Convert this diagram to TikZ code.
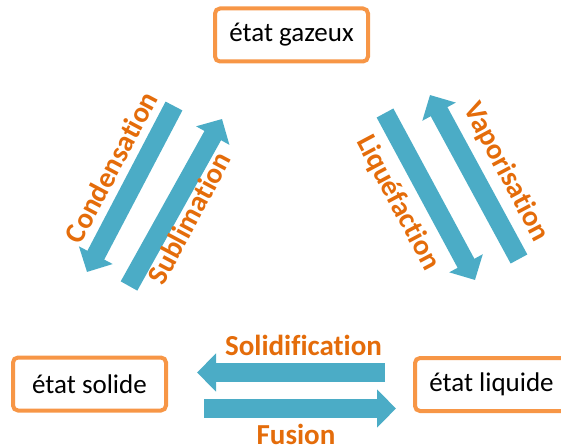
\documentclass[tikz,border=0pt]{standalone}
\usepackage{fontspec}
\setmainfont{Carlito}[Ligatures={NoCommon,NoContextual}]
\usetikzlibrary{arrows.meta}

\definecolor{boxorange}{HTML}{F79646}
\definecolor{textorange}{HTML}{E46C0A}
\definecolor{flowblue}{HTML}{4BACC6}

\tikzset{
  etat/.style={draw=boxorange, line width=4pt, rounded corners=5pt, fill=white,
    minimum width=153pt, minimum height=53pt, inner sep=0pt,
    font=\fontsize{27}{32}\selectfont},
  flow/.style={draw=flowblue, line width=19pt,
    -{Triangle[width=37pt,length=19pt]}},
  change/.style={text=textorange, inner sep=0pt,
    font=\fontsize{29}{34}\selectfont\bfseries},
}

\begin{document}
\begin{tikzpicture}[x=1pt,y=-1pt]
  \useasboundingbox (0,0) rectangle (561,446);
  \clip (0,0) rectangle (561,446);
  % three states
  \node[etat] (gaz) at (291.5,35) {état gazeux};
  \node[etat] (solide) at (89.5,384) {état solide};
  \node[etat] (liquide) at (491.5,384.5) {état liquide};
  % arrow ends
  \coordinate (cond-a) at (174,106);
  \coordinate (cond-b) at (87,272);
  \coordinate (subl-a) at (129,286);
  \coordinate (subl-b) at (222,119);
  \coordinate (liqu-a) at (385,113);
  \coordinate (liqu-b) at (475,280);
  \coordinate (vapo-a) at (519,259);
  \coordinate (vapo-b) at (430,95);
  \coordinate (soli-a) at (385,372.5);
  \coordinate (soli-b) at (197,372.5);
  \coordinate (fusi-a) at (204,408.5);
  \coordinate (fusi-b) at (396,408.5);
  % six arrows
  \draw[flow] (cond-a) -- (cond-b);
  \draw[flow] (subl-a) -- (subl-b);
  \draw[flow] (liqu-a) -- (liqu-b);
  \draw[flow] (vapo-a) -- (vapo-b);
  \draw[flow] (soli-a) -- (soli-b);
  \draw[flow] (fusi-a) -- (fusi-b);
  % names of the changes
  \node[change, rotate=62] (condensation) at (111,167) {Condensation};
  \node[change, rotate=62] (sublimation) at (189,218) {Sublimation};
  \node[change, rotate=-62] (liquefaction) at (398,203) {Liquéfaction};
  \node[change, rotate=-62] (vaporisation) at (506,172) {Vaporisation};
  \node[change] (solidification) at (303.5,345) {Solidification};
  \node[change] (fusion) at (296,434) {Fusion};
\end{tikzpicture}
\end{document}
